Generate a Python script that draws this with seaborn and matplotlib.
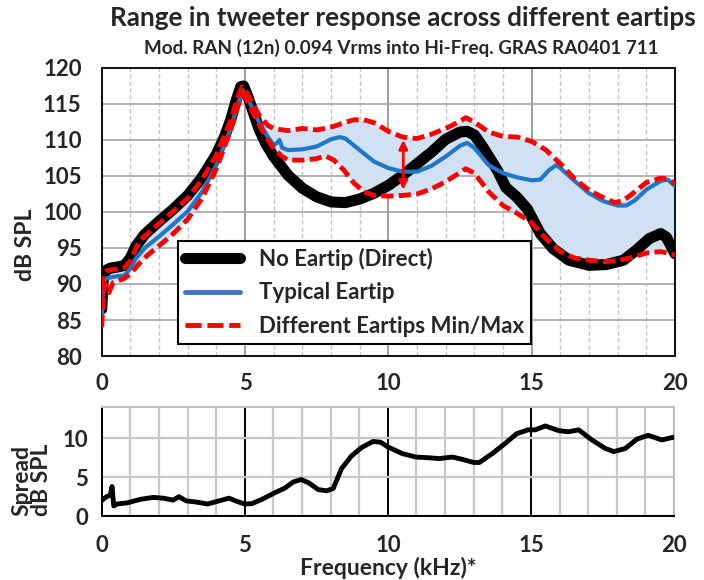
import numpy as np
import pandas as pd
import matplotlib
matplotlib.use("Agg")
import matplotlib.pyplot as plt
from matplotlib.lines import Line2D
from matplotlib.ticker import MultipleLocator
import seaborn as sns

# ---------------- data ----------------
TITLE = "Range in tweeter response across different eartips"
SUBTITLE = "Mod. RAN (12n) 0.094 Vrms into Hi-Freq. GRAS RA0401 711"
LEGEND_LABELS = ["No Eartip (Direct)", "Typical Eartip", "Different Eartips Min/Max"]

direct_freq = [0.0, 0.05, 0.1, 0.3, 0.6, 0.8, 1.0, 1.2, 1.5, 2.0, 2.5, 3.0, 3.5, 4.0, 4.3,
               4.5, 4.7, 4.85, 4.95, 5.1, 5.3, 5.5, 5.75, 6.0, 6.5, 7.0, 7.5, 8.0, 8.5, 9.0,
               9.5, 10.0, 10.5, 11.0, 11.5, 12.0, 12.5, 12.75, 13.0, 13.3, 13.8, 14.1, 14.5,
               14.85, 15.3, 15.75, 16.3, 17.0, 17.6, 18.2, 18.65, 19.1, 19.5, 19.7, 20.0]
direct_spl = [86.5, 90.5, 91.8, 92.2, 92.4, 92.6, 93.6, 95.3, 96.9, 98.7, 100.4, 102.3, 104.8,
              108.0, 110.6, 112.8, 115.6, 117.4, 117.5, 116.0, 113.7, 111.4, 109.3, 107.7,
              105.1, 103.3, 102.1, 101.4, 101.3, 101.8, 102.6, 103.7, 105.1, 106.7, 108.3,
              110.1, 111.1, 111.2, 110.7, 109.0, 105.8, 103.4, 102.0, 100.4, 97.0, 94.9,
              93.3, 92.6, 92.7, 93.3, 94.7, 96.3, 97.0, 96.5, 94.2]

typical_freq = [0.0, 0.05, 0.1, 0.4, 0.8, 1.0, 1.2, 1.5, 2.0, 2.5, 3.0, 3.5, 4.0, 4.5, 4.75,
                4.93, 5.1, 5.3, 5.5, 5.8, 6.0, 6.15, 6.2, 6.3, 6.5, 7.0, 7.5, 8.0, 8.3, 8.5,
                9.0, 9.5, 10.0, 10.5, 11.0, 11.5, 12.0, 12.5, 12.75, 13.0, 13.5, 14.0, 14.5,
                15.0, 15.3, 15.6, 15.85, 16.0, 16.5, 17.0, 17.5, 18.0, 18.3, 18.6, 19.0, 19.5,
                19.75, 20.0]
typical_spl = [85.5, 89.5, 90.7, 91.0, 91.2, 92.2, 93.6, 95.0, 96.6, 98.3, 100.1, 102.8, 106.5,
               111.6, 115.0, 116.8, 115.8, 114.0, 112.4, 110.4, 109.3, 109.7, 110.0, 108.9,
               108.6, 108.7, 109.1, 110.1, 110.4, 110.2, 108.6, 107.0, 106.1, 105.6, 105.6,
               106.4, 107.7, 109.2, 109.6, 108.9, 106.5, 105.4, 104.8, 104.4, 104.5, 105.8,
               106.5, 106.1, 104.3, 102.6, 101.5, 100.9, 100.9, 101.6, 103.1, 104.3, 104.5,
               103.6]

range_freq = [0.0, 0.05, 0.1, 0.15, 0.25, 0.4, 0.6, 0.8, 1.0, 1.3, 1.6, 2.0, 2.5, 3.0, 3.5,
              4.0, 4.5, 4.75, 4.9, 5.05, 5.3, 5.5, 5.8, 6.0, 6.3, 6.5, 7.0, 7.5, 7.8, 8.1,
              8.45, 8.8, 9.15, 9.5, 10.0, 10.5, 11.0, 11.5, 12.0, 12.5, 12.7, 13.0, 13.5,
              14.0, 14.5, 15.0, 15.5, 16.0, 16.5, 17.0, 17.5, 17.9, 18.2, 18.5, 19.0, 19.5,
              19.75, 20.0]
range_max = [87.0, 91.0, 91.6, 91.8, 91.9, 92.0, 92.1, 92.3, 93.2, 95.9, 97.0, 98.4, 100.1,
             101.9, 104.5, 107.9, 112.7, 116.0, 117.4, 116.6, 114.8, 113.4, 112.0, 111.6,
             111.4, 111.3, 111.6, 111.4, 111.6, 111.9, 112.4, 112.8, 112.8, 112.4, 111.2,
             110.4, 110.2, 110.8, 111.6, 112.6, 113.1, 112.5, 111.1, 110.5, 110.4, 109.8,
             108.6, 106.7, 104.6, 103.0, 102.0, 101.3, 101.6, 102.5, 104.1, 104.7, 104.6,
             103.9]
range_min = [84.0, 88.0, 90.0, 89.8, 88.8, 90.2, 90.5, 90.8, 91.4, 92.8, 94.0, 95.3, 97.0,
             99.0, 101.9, 106.0, 111.4, 114.8, 116.3, 115.6, 113.6, 112.0, 110.0, 108.8,
             107.7, 107.2, 107.2, 107.4, 107.8, 107.2, 105.8, 104.0, 102.8, 102.3, 102.2,
             102.3, 102.5, 103.2, 104.2, 105.5, 106.0, 105.4, 102.8, 100.9, 99.8, 98.5,
             96.3, 94.5, 93.6, 93.3, 93.1, 93.2, 93.4, 93.7, 94.3, 94.5, 94.3, 94.0]

spread_freq = [0.0, 0.17, 0.3, 0.36, 0.42, 0.53, 0.9, 1.35, 1.8, 2.15, 2.5, 2.7, 2.95, 3.3,
               3.7, 4.1, 4.45, 4.75, 5.0, 5.25, 5.6, 6.05, 6.4, 6.7, 6.97, 7.22, 7.57, 7.86,
               8.09, 8.38, 8.72, 9.07, 9.48, 9.75, 10.0, 10.5, 10.97, 11.44, 11.8, 12.25,
               12.6, 13.0, 13.2, 13.65, 14.1, 14.5, 14.9, 15.15, 15.5, 15.97, 16.3, 16.67,
               17.13, 17.6, 17.9, 18.3, 18.7, 19.1, 19.57, 19.92, 20.0]
spread_db = [2.0, 2.5, 2.7, 3.8, 1.3, 1.55, 1.7, 2.15, 2.4, 2.3, 2.05, 2.5, 1.95, 1.8, 1.55,
             1.95, 2.3, 1.85, 1.55, 1.6, 2.15, 3.0, 3.6, 4.4, 4.7, 4.3, 3.4, 3.25, 3.55, 6.1,
             7.7, 8.8, 9.6, 9.5, 8.9, 8.05, 7.6, 7.5, 7.4, 7.6, 7.3, 6.9, 6.9, 8.05, 9.35,
             10.6, 11.1, 11.1, 11.6, 11.0, 10.85, 11.1, 9.8, 8.7, 8.3, 8.7, 9.9, 10.4, 9.8,
             10.1, 10.15]

ARROW_FREQ = 10.52
ARROW_LOW = 103.1
ARROW_HIGH = 110.0

# ---------------- style ----------------
sns.set_style("white")
plt.rcParams["font.family"] = ["Lato", "DejaVu Sans"]
plt.rcParams["font.weight"] = "bold"
plt.rcParams["axes.labelweight"] = "bold"

FS_TICK = 16
FS_LAB = 16.5
FS_LEG = 16

df_direct = pd.DataFrame({"f": direct_freq, "v": direct_spl})
df_typ = pd.DataFrame({"f": typical_freq, "v": typical_spl})
df_rng = pd.DataFrame({"f": range_freq, "lo": range_min, "hi": range_max})
df_spread = pd.DataFrame({"f": spread_freq, "v": spread_db})

fig = plt.figure(figsize=(7.04, 5.8), dpi=100)
ax1 = fig.add_axes([0.1445, 0.3862, 0.8143, 0.4966])
ax2 = fig.add_axes([0.1445, 0.1103, 0.8129, 0.1874])

# ---- top panel ----
ax1.fill_between(df_rng["f"], df_rng["lo"], df_rng["hi"], color="#cfe1f2", lw=0, zorder=1)
sns.lineplot(data=df_direct, x="f", y="v", ax=ax1, color="black", linewidth=8, zorder=2)
sns.lineplot(data=df_typ, x="f", y="v", ax=ax1, color="#1f78c6", linewidth=3.0, zorder=3)
sns.lineplot(data=df_rng, x="f", y="hi", ax=ax1, color="red", linewidth=3.5,
             linestyle=(0, (2.5, 1.1)), zorder=4)
sns.lineplot(data=df_rng, x="f", y="lo", ax=ax1, color="red", linewidth=3.5,
             linestyle=(0, (2.5, 1.1)), zorder=4)
ax1.annotate("", xy=(ARROW_FREQ, ARROW_HIGH), xytext=(ARROW_FREQ, ARROW_LOW),
             arrowprops=dict(arrowstyle="<|-|>", color="red", lw=2.0,
                             mutation_scale=13, shrinkA=0, shrinkB=0), zorder=5)

ax1.set_xlim(0, 20)
ax1.set_ylim(80, 120)
ax1.xaxis.set_major_locator(MultipleLocator(5))
ax1.xaxis.set_minor_locator(MultipleLocator(1))
ax1.yaxis.set_major_locator(MultipleLocator(5))
ax1.set_axisbelow(True)
ax1.grid(True, which="major", axis="y", color="#a6a6a6", lw=1.2, ls="-")
ax1.grid(True, which="major", axis="x", color="#8f8f8f", lw=1.2, ls="-")
ax1.grid(True, which="minor", axis="x", color="#c4c4c4", lw=1.0, ls=(0, (3, 2)))
ax1.tick_params(axis="x", which="both", direction="out", length=6, width=1.2,
                labelsize=FS_TICK, pad=6, color="black")
ax1.tick_params(axis="y", which="major", direction="inout", length=11, width=1.2,
                labelsize=FS_TICK, pad=9, color="black")
for s in ax1.spines.values():
    s.set_color("black")
    s.set_linewidth(1.3)
ax1.set_xlabel("")
ax1.set_ylabel("dB SPL", fontsize=FS_LAB, fontweight="bold")
ax1.yaxis.set_label_coords(-0.114, 0.385)

handles = [Line2D([], [], color="black", lw=8),
           Line2D([], [], color="#4472c4", lw=3.5),
           Line2D([], [], color="red", lw=3.5, ls=(0, (3.3, 1.2)))]
leg = ax1.legend(handles, LEGEND_LABELS, loc="lower left", bbox_to_anchor=(0.133, 0.042),
                 borderaxespad=0, frameon=True, fancybox=False, framealpha=1,
                 edgecolor="black", handlelength=2.45, handletextpad=0.85,
                 labelspacing=0.55, borderpad=0.33, prop={"weight": "bold", "size": FS_LEG})
leg.get_frame().set_linewidth(1.5)
leg.set_zorder(10)

# ---- bottom panel ----
sns.lineplot(data=df_spread, x="f", y="v", ax=ax2, color="black", linewidth=3.5, zorder=3)
ax2.set_xlim(0, 20)
ax2.set_ylim(0, 14)
ax2.xaxis.set_major_locator(MultipleLocator(5))
ax2.xaxis.set_minor_locator(MultipleLocator(1))
ax2.yaxis.set_major_locator(MultipleLocator(5))
ax2.yaxis.set_minor_locator(MultipleLocator(2.5))
ax2.set_axisbelow(True)
ax2.grid(True, which="minor", axis="x", color="#c8c8c8", lw=1.6)
ax2.grid(True, which="major", axis="x", color="black", lw=1.4)
ax2.grid(True, which="major", axis="y", color="#c8c8c8", lw=1.6)
ax2.tick_params(axis="x", which="both", direction="out", length=5, width=1.2,
                labelsize=FS_TICK, pad=9, color="black")
ax2.tick_params(axis="y", which="major", direction="out", length=7, width=1.2,
                labelsize=FS_TICK, pad=3, color="black")
ax2.tick_params(axis="y", which="minor", direction="in", length=5, width=1.2, color="black")
ax2.spines["top"].set_color("#bfbfbf")
ax2.spines["right"].set_color("#bfbfbf")
ax2.spines["left"].set_color("black")
ax2.spines["bottom"].set_color("black")
for s in ax2.spines.values():
    s.set_linewidth(1.4)
ax2.set_xlabel("Frequency (kHz)*", fontsize=FS_LAB, fontweight="bold", labelpad=0)
ax2.set_ylabel("Spread\ndB SPL", fontsize=FS_LAB, fontweight="bold", linespacing=0.9)
ax2.yaxis.set_label_coords(-0.087, 0.33)

for ax in (ax1, ax2):
    for lab in ax.get_xticklabels() + ax.get_yticklabels():
        lab.set_fontweight("bold")

fig.text(0.572, 0.969, TITLE, ha="center", va="center", fontsize=18.8, fontweight="bold")
fig.text(0.570, 0.917, SUBTITLE, ha="center", va="center", fontsize=13.6, fontweight="bold")

fig.savefig("out.png", dpi=100)
